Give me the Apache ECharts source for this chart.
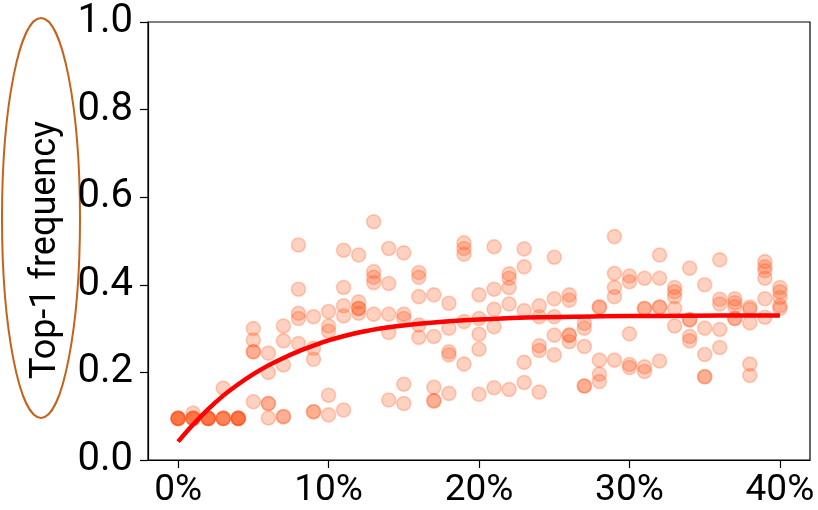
<!DOCTYPE html>
<html>
<head>
<meta charset="utf-8">
<script src="https://cdn.jsdelivr.net/npm/echarts@6/dist/echarts.min.js"></script>
<style>
html,body{margin:0;padding:0;background:#fff;}
#chart{width:818px;height:510px;}
</style>
</head>
<body>
<div id="chart"></div>
<script>
// Percent positions (x) and the Top-1 frequency samples observed at each
const pctValues = [0,1,2,3,4,5,6,7,8,9,10,11,12,13,14,15,16,17,18,19,20,21,22,23,24,25,26,27,28,29,30,31,32,33,34,35,36,37,38,39,40];
const freqSamples = [
  [0.095,0.095,0.095,0.095,0.095],
  [0.095,0.095,0.095,0.095,0.107],
  [0.095,0.095,0.095,0.095,0.095],
  [0.095,0.095,0.095,0.095,0.164],
  [0.095,0.095,0.095,0.095,0.095],
  [0.300,0.274,0.247,0.247,0.133],
  [0.244,0.200,0.129,0.129,0.096],
  [0.306,0.272,0.217,0.099,0.099],
  [0.491,0.390,0.335,0.323,0.266],
  [0.327,0.255,0.230,0.110,0.110],
  [0.339,0.306,0.294,0.148,0.103],
  [0.479,0.394,0.352,0.329,0.114],
  [0.468,0.361,0.346,0.346,0.335],
  [0.544,0.430,0.417,0.405,0.333],
  [0.483,0.403,0.333,0.291,0.137],
  [0.473,0.333,0.323,0.173,0.129],
  [0.428,0.417,0.373,0.308,0.280],
  [0.377,0.282,0.166,0.135,0.135],
  [0.358,0.301,0.247,0.240,0.152],
  [0.496,0.483,0.470,0.316,0.219],
  [0.377,0.323,0.287,0.253,0.150],
  [0.487,0.390,0.344,0.304,0.165],
  [0.425,0.415,0.394,0.356,0.161],
  [0.482,0.441,0.341,0.223,0.177],
  [0.352,0.327,0.261,0.250,0.155],
  [0.463,0.368,0.327,0.285,0.240],
  [0.377,0.365,0.285,0.285,0.270],
  [0.312,0.301,0.259,0.169,0.169],
  [0.349,0.349,0.228,0.196,0.179],
  [0.510,0.426,0.394,0.373,0.228],
  [0.420,0.407,0.288,0.218,0.211],
  [0.415,0.346,0.346,0.213,0.202],
  [0.468,0.415,0.349,0.349,0.226],
  [0.394,0.384,0.373,0.346,0.306],
  [0.438,0.320,0.320,0.282,0.272],
  [0.400,0.301,0.241,0.190,0.190],
  [0.457,0.367,0.356,0.298,0.257],
  [0.368,0.359,0.350,0.323,0.323],
  [0.349,0.344,0.313,0.219,0.193],
  [0.453,0.441,0.432,0.415,0.368,0.326],
  [0.394,0.384,0.371,0.352,0.346]
];
// Fitted curve
const fitX = [0,1,2,3,4,5,6,7,8,9,10,12,14,16,18,20,24,28,32,36,40];
const fitY = [0.042,0.081,0.116,0.147,0.173,0.196,0.216,0.233,0.248,0.261,0.273,0.291,0.303,0.311,0.317,0.321,0.326,0.328,0.329,0.330,0.330];
// Tick labels
const xTicks = [0,10,20,30,40];
const yTicks = [0,0.2,0.4,0.6,0.8,1.0];
const yTitle = 'Top-1 frequency';

const scatterData = [];
pctValues.forEach((p, i) => { freqSamples[i].forEach(v => scatterData.push([p, v])); });
const lineData = fitX.map((x, i) => [x, fitY[i]]);

const chart = echarts.init(document.getElementById('chart'), null, {renderer: 'canvas'});
const FONT = 'Roboto';
chart.setOption({
  animation: false,
  backgroundColor: '#fff',
  grid: {left: 148, top: 22, right: 8, bottom: 50, show: true, borderColor: '#000', borderWidth: 1.2, backgroundColor: 'transparent'},
  xAxis: {
    type: 'value', min: -2, max: 42,
    axisLine: {show: true, onZero: false, lineStyle: {color: '#000', width: 1.2}},
    axisTick: {show: true, inside: false, length: 8, customValues: xTicks, lineStyle: {color: '#000', width: 1.2}},
    axisLabel: {customValues: xTicks, formatter: v => v + '%', color: '#000', fontFamily: FONT, fontSize: 37, margin: 12},
    splitLine: {show: false}
  },
  yAxis: {
    type: 'value', min: 0, max: 1,
    axisLine: {show: true, onZero: false, lineStyle: {color: '#000', width: 1.2}},
    axisTick: {show: true, inside: false, length: 8, customValues: yTicks, lineStyle: {color: '#000', width: 1.2}},
    axisLabel: {customValues: yTicks, formatter: v => v.toFixed(1), color: '#000', fontFamily: FONT, fontSize: 40, margin: 15},
    splitLine: {show: false}
  },
  series: [
    {
      type: 'scatter', data: scatterData, symbol: 'circle', symbolSize: 14,
      itemStyle: {color: 'rgba(255,80,20,0.33)', borderColor: 'rgba(255,80,20,0.33)', borderWidth: 1.6},
      z: 2
    },
    {
      type: 'line', data: lineData, smooth: 0.3, showSymbol: false, symbol: 'none',
      lineStyle: {color: '#ff0000', width: 4.5, cap: 'butt'},
      z: 3
    }
  ],
  graphic: [
    {type: 'text', x: 46, y: 250, rotation: Math.PI / 2,
     style: {text: yTitle, fill: '#000', font: '36px ' + FONT, align: 'center', verticalAlign: 'middle', textAlign: 'center', textVerticalAlign: 'middle'}},
    {type: 'ellipse', shape: {cx: 41, cy: 218, rx: 39, ry: 200},
     style: {fill: 'none', stroke: '#c5621c', lineWidth: 2}}
  ]
});
</script>
</body>
</html>
